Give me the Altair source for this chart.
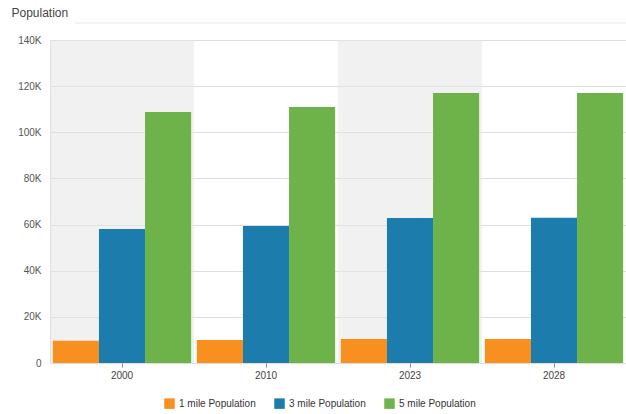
import altair as alt
import pandas as pd

years = ["2000", "2010", "2023", "2028"]
series = ["1 mile Population", "3 mile Population", "5 mile Population"]
pop_1mi = [9600, 10000, 10400, 10400]
pop_3mi = [58100, 59400, 62800, 63000]
pop_5mi = [108800, 111000, 117000, 117000]
colors = ["#f7901e", "#1c7cab", "#6db34a"]
shaded = [True, False, True, False]
y_ticks = [0, 20000, 40000, 60000, 80000, 100000, 120000, 140000]

rows = []
for s, vals in zip(series, [pop_1mi, pop_3mi, pop_5mi]):
    for yr, v in zip(years, vals):
        rows.append({"year": yr, "series": s, "value": v})
df = pd.DataFrame(rows)
bg = pd.DataFrame({"year": years, "shade": shaded, "top": 140000, "bottom": 0})

FONT = "Liberation Sans"

background = alt.Chart(bg).transform_filter("datum.shade").mark_rect(color="#e4e4e4", opacity=0.5).encode(
    x=alt.X("year:N", sort=years, scale=alt.Scale(domain=years, paddingInner=0, paddingOuter=0), axis=None),
    y=alt.Y("top:Q", scale=alt.Scale(domain=[0, 140000])),
    y2="bottom:Q",
)

bars = alt.Chart(df).mark_bar().encode(
    x=alt.X("year:N", sort=years,
            scale=alt.Scale(domain=years, paddingInner=0.04, paddingOuter=0.02),
            axis=alt.Axis(title=None, labelAngle=0, domain=False, ticks=True, tickSize=4,
                          tickColor="#888", labelColor="#444", labelFontSize=10,
                          labelFont=FONT, labelPadding=3)),
    xOffset=alt.XOffset("series:N", sort=series),
    y=alt.Y("value:Q", scale=alt.Scale(domain=[0, 140000], nice=False),
            axis=alt.Axis(values=y_ticks, title="Population", titleAngle=0,
                          titleX=-39, titleY=-24, titleAlign="left", titleBaseline="alphabetic",
                          titleFontSize=12, titleFontWeight="normal", titleColor="#444",
                          titleFont=FONT,
                          labelExpr="datum.value == 0 ? '0' : (datum.value / 1000) + 'K'",
                          labelColor="#555", labelFontSize=10, labelFont=FONT, labelPadding=9,
                          domain=False, ticks=False, grid=True, gridColor="#dedede")),
    color=alt.Color("series:N", sort=series,
                    scale=alt.Scale(domain=series, range=colors),
                    legend=alt.Legend(title=None, orient="none", direction="horizontal",
                                      legendX=114, legendY=358, symbolType="square",
                                      symbolSize=110, symbolStrokeWidth=0, labelFontSize=10,
                                      labelFont=FONT, labelColor="#333", columnPadding=18,
                                      symbolOpacity=1)),
)

topline = alt.Chart(pd.DataFrame({"year": ["2000"]})).mark_rule(color="#e6e6e6", strokeWidth=1).encode(
    x=alt.value(25), x2=alt.value(576), y=alt.value(-17)
)

chart = alt.layer(background, bars, topline).resolve_scale(x="independent").properties(
    width=576, height=323,
    autosize=alt.AutoSizeParams(type="none"),
    padding={"left": 50, "top": 40, "right": 0, "bottom": 51},
).configure_view(stroke=None).configure(background="white")

chart.save("out.html", embed_options={"renderer": "svg", "actions": False})
